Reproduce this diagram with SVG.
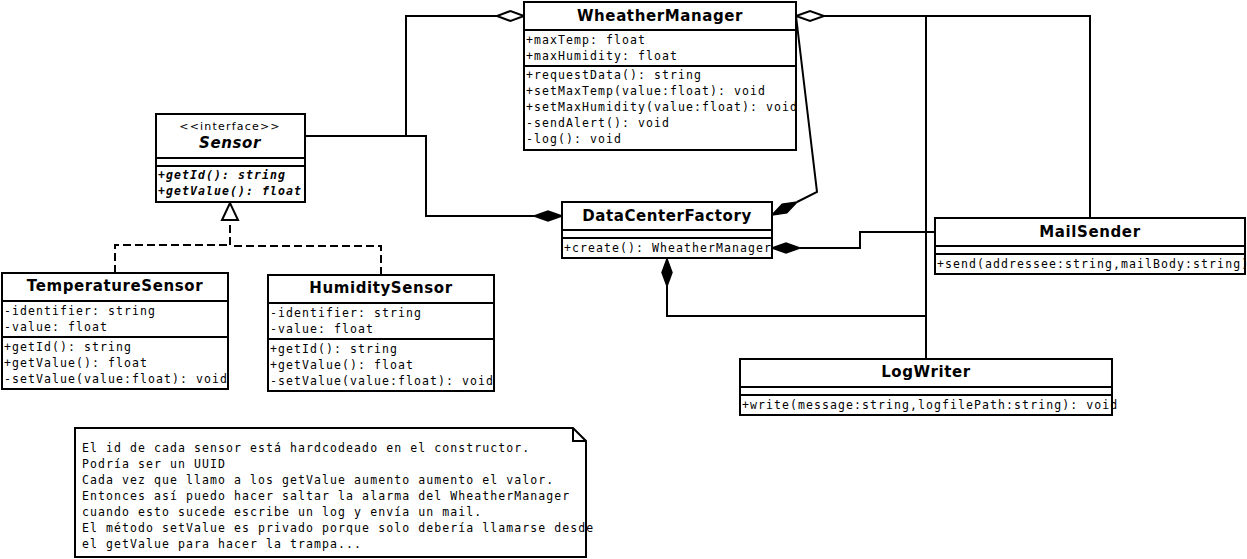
<svg xmlns="http://www.w3.org/2000/svg" width="1247" height="559" viewBox="0 0 1247 559">
<style>
.box{fill:#fff;stroke:#000;stroke-width:2}
.sep{stroke:#000;stroke-width:2}
.title{font-family:"DejaVu Sans",sans-serif;font-weight:bold;font-size:15px;letter-spacing:0.6px;text-anchor:middle;fill:#000}
.mono{font-family:"DejaVu Sans Mono","Liberation Mono",monospace;font-size:11.5px;letter-spacing:1.08px;fill:#000}
.absm{font-weight:bold;font-style:italic}
.stereo{font-family:"DejaVu Sans",sans-serif;font-size:11px;letter-spacing:1.2px;text-anchor:middle;fill:#000}
.conn{fill:none;stroke:#000;stroke-width:2}
.dash{fill:none;stroke:#000;stroke-width:2;stroke-dasharray:8,4}
.hollow{fill:#fff;stroke:#000;stroke-width:2}
.filled{fill:#000;stroke:#000;stroke-width:1.5}
</style>
<rect width="1247" height="559" fill="#fff"/>
<g id="connectors">
<path class="conn" d="M305,136 H406 V16 H497"/>
<path class="conn" d="M406,136 H426 V216 H534"/>
<path class="conn" d="M824,16 H1090 V218"/>
<path class="conn" d="M926,16 V359"/>
<path class="conn" d="M796,16 L817,192 L797,202"/>
<path class="conn" d="M935,232 H860 V248 H800"/>
<path class="conn" d="M926,316 H667 V286"/>
<path class="dash" d="M115,273 V245 H230"/>
<path class="dash" d="M381,275 V246 H230"/>
<path class="dash" d="M230,245 V220"/>
<polygon class="hollow" points="230,203 222,220 238,220"/>
<polygon class="hollow" points="524,16 510.5,11 497,16 510.5,21"/>
<polygon class="hollow" points="796,16 810,11 824,16 810,21"/>
<polygon class="filled" points="562,216 548,211 534,216 548,221"/>
<polygon class="filled" points="772,215 786.8,212.9 797,202 782.2,204.1"/>
<polygon class="filled" points="772,248 786,243 800,248 786,253"/>
<polygon class="filled" points="667,259 672,272.5 667,286 662,272.5"/>
</g>
<g id="WheatherManager">
<rect class="box" x="524" y="2" width="272" height="148"/>
<line class="sep" x1="524" y1="30" x2="796" y2="30"/>
<line class="sep" x1="524" y1="66" x2="796" y2="66"/>
<text class="title" x="660" y="21">WheatherManager</text>
<text class="mono" x="526" y="44">+maxTemp: float</text>
<text class="mono" x="526" y="60">+maxHumidity: float</text>
<text class="mono" x="526" y="79">+requestData(): string</text>
<text class="mono" x="526" y="95">+setMaxTemp(value:float): void</text>
<text class="mono" x="526" y="111">+setMaxHumidity(value:float): void</text>
<text class="mono" x="526" y="127">-sendAlert(): void</text>
<text class="mono" x="526" y="143">-log(): void</text>
</g>
<g id="Sensor">
<rect class="box" x="156" y="114" width="149" height="88"/>
<line class="sep" x1="156" y1="158" x2="305" y2="158"/>
<line class="sep" x1="156" y1="166" x2="305" y2="166"/>
<text class="stereo" x="230" y="130">&lt;&lt;interface&gt;&gt;</text>
<text class="title" x="230" y="148" font-style="italic">Sensor</text>
<text class="mono absm" x="158" y="179">+getId(): string</text>
<text class="mono absm" x="158" y="195">+getValue(): float</text>
</g>
<g id="TemperatureSensor">
<rect class="box" x="2" y="273" width="226" height="116"/>
<line class="sep" x1="2" y1="301" x2="228" y2="301"/>
<line class="sep" x1="2" y1="337" x2="228" y2="337"/>
<text class="title" x="115" y="291">TemperatureSensor</text>
<text class="mono" x="4" y="315">-identifier: string</text>
<text class="mono" x="4" y="331">-value: float</text>
<text class="mono" x="4" y="351">+getId(): string</text>
<text class="mono" x="4" y="367">+getValue(): float</text>
<text class="mono" x="4" y="383">-setValue(value:float): void</text>
</g>
<g id="HumiditySensor">
<rect class="box" x="268" y="275" width="226" height="116"/>
<line class="sep" x1="268" y1="303" x2="494" y2="303"/>
<line class="sep" x1="268" y1="339" x2="494" y2="339"/>
<text class="title" x="381" y="293">HumiditySensor</text>
<text class="mono" x="270" y="317">-identifier: string</text>
<text class="mono" x="270" y="333">-value: float</text>
<text class="mono" x="270" y="353">+getId(): string</text>
<text class="mono" x="270" y="369">+getValue(): float</text>
<text class="mono" x="270" y="385">-setValue(value:float): void</text>
</g>
<g id="DataCenterFactory">
<rect class="box" x="562" y="202" width="210" height="56"/>
<line class="sep" x1="562" y1="230" x2="772" y2="230"/>
<line class="sep" x1="562" y1="238" x2="772" y2="238"/>
<text class="title" x="667" y="221">DataCenterFactory</text>
<text class="mono" x="564" y="252">+create(): WheatherManager</text>
</g>
<g id="MailSender">
<rect class="box" x="935" y="218" width="310" height="56"/>
<line class="sep" x1="935" y1="246" x2="1245" y2="246"/>
<line class="sep" x1="935" y1="254" x2="1245" y2="254"/>
<text class="title" x="1090" y="237">MailSender</text>
<text class="mono" x="937" y="268">+send(addressee:string,mailBody:string)</text>
</g>
<g id="LogWriter">
<rect class="box" x="740" y="359" width="372" height="56"/>
<line class="sep" x1="740" y1="387" x2="1112" y2="387"/>
<line class="sep" x1="740" y1="395" x2="1112" y2="395"/>
<text class="title" x="926" y="377">LogWriter</text>
<text class="mono" x="742" y="409">+write(message:string,logfilePath:string): void</text>
</g>
<g id="note">
<path class="box" d="M75,428 H573 L586,441 V557 H75 Z"/>
<path class="conn" d="M573,428 V441 H586"/>
<text class="mono" x="82" y="452">El id de cada sensor está hardcodeado en el constructor.</text>
<text class="mono" x="82" y="468">Podría ser un UUID</text>
<text class="mono" x="82" y="484">Cada vez que llamo a los getValue aumento aumento el valor.</text>
<text class="mono" x="82" y="500">Entonces así puedo hacer saltar la alarma del WheatherManager</text>
<text class="mono" x="82" y="516">cuando esto sucede escribe un log y envía un mail.</text>
<text class="mono" x="82" y="532">El método setValue es privado porque solo debería llamarse desde</text>
<text class="mono" x="82" y="548">el getValue para hacer la trampa...</text>
</g>
</svg>
